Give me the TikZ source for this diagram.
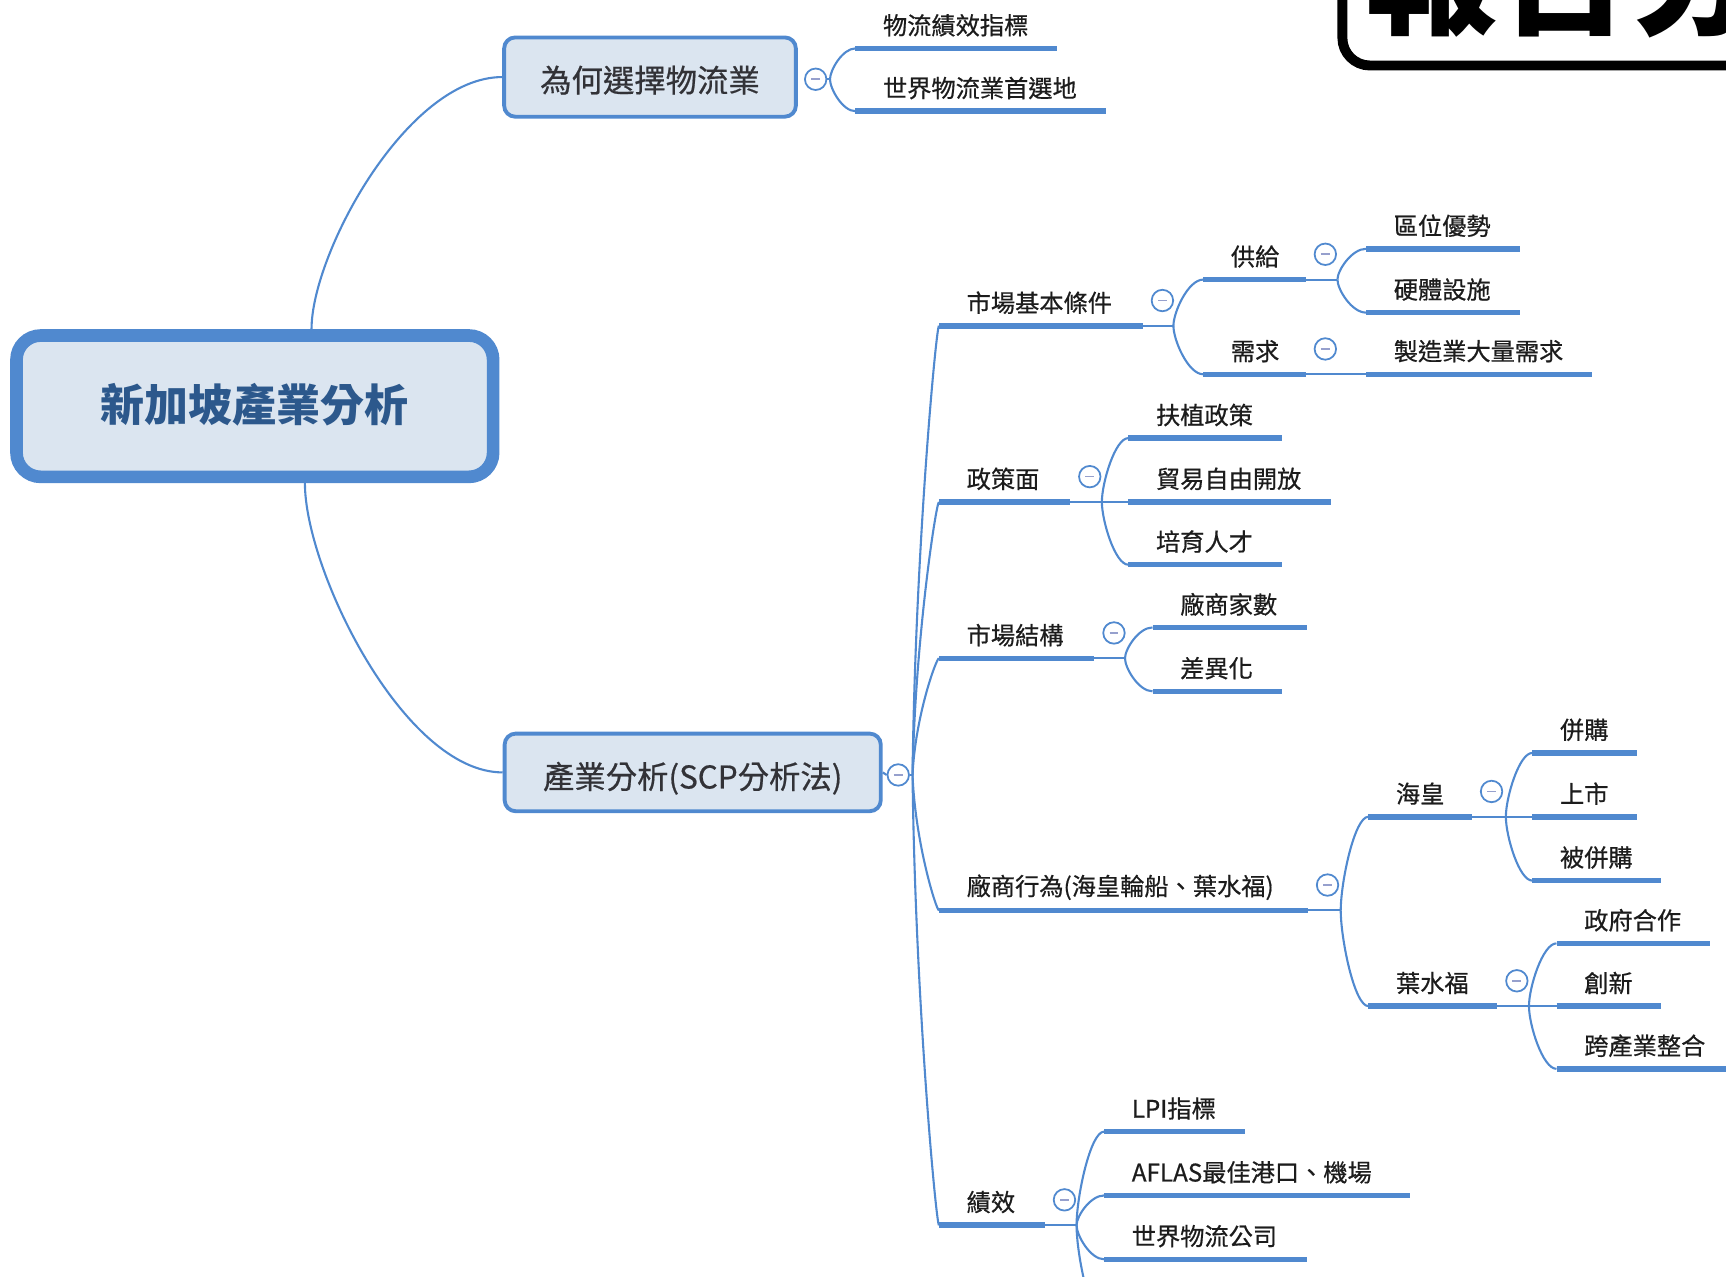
\documentclass[tikz,border=0pt]{standalone}
\usepackage{fontspec}
\setmainfont{Noto Sans CJK TC}
\newfontfamily\medfont[FakeBold=0.6]{Noto Sans CJK TC}
\usetikzlibrary{calc}
\definecolor{lblue}{RGB}{80,137,207}
\definecolor{boxfill}{RGB}{219,229,240}
\definecolor{rootText}{RGB}{44,88,140}
\definecolor{txtc}{RGB}{28,28,28}
\definecolor{boxtxt}{RGB}{50,50,55}
\definecolor{minusc}{RGB}{150,160,205}
\newcommand\topicline[5]{%
  \coordinate (#1s) at (#2,#4);
  \coordinate (#1e) at (#3,#4);
  \draw[uline] (#1s) -- (#1e);
  \node[topic] (#1) at (#2+25,#4-21) {#5};
}
\newcommand\togat[2]{% name, parent underline end
  \node[tog] (#1) at ($(#2)+(18,-23)$) {};
}
\begin{document}
\begin{tikzpicture}[x=1pt,y=-1pt,
  conn/.style={draw=lblue, line width=1.9pt},
  uline/.style={draw=lblue, line width=5pt},
  brace/.style={to path={.. controls ($(\tikztostart)!0.3!(\tikztostart|-\tikztotarget)$) and ($(\tikztotarget)!0.5!(\tikztotarget-|\tikztostart)$) .. (\tikztotarget)}},
  spine/.style={to path={.. controls ($(\tikztostart)!0.5!($(\tikztostart|-\tikztotarget)!0.2!(\tikztotarget)$)$) and ($(\tikztotarget)!0.1!(\tikztotarget-|\tikztostart)$) .. (\tikztotarget)}},
  topic/.style={anchor=west, inner sep=0pt, text=txtc, font=\medfont\fontsize{22}{26}\selectfont},
  tog/.style={circle, draw=lblue, line width=1.6pt, fill=white, minimum size=19.5pt, inner sep=0pt,
    path picture={\draw[draw=minusc, line width=1.5pt] ([xshift=-4pt]path picture bounding box.center) -- ([xshift=4pt]path picture bounding box.center);}},
  lvlbox/.style={draw=lblue, fill=boxfill, line width=3.5pt, rounded corners=10pt, inner sep=0pt, text=boxtxt, font=\medfont\fontsize{28.5}{32}\selectfont, text depth=3.4pt},
  rootbox/.style={draw=lblue, fill=boxfill, line width=11.5pt, rounded corners=22pt, inner sep=0pt, text=rootText, font=\fontsize{40}{48}\selectfont\bfseries}
]
\useasboundingbox (0,0) rectangle (1568,1160);
\clip (0,0) rectangle (1568,1160);

% header box (cropped at the page edge)
\node[draw=black, line width=9pt, rounded corners=25pt, minimum width=500pt, minimum height=180pt, anchor=south west] (hdr) at (1215,64) {};
\node[anchor=base west, inner sep=0pt, font=\fontsize{120}{130}\selectfont\bfseries] (hdrtext) at (1240,22.6) {報告分工};

% ---------- boxes ----------
\node[rootbox, minimum width=433pt, minimum height=128.4pt, text height=31pt, text depth=4pt] (root) at (231.5,369) {新加坡產業分析};
\node[lvlbox, minimum width=265pt, minimum height=72pt, text height=30.6pt] (W) at (590.5,70) {為何選擇物流業};
\node[lvlbox, minimum width=341.7pt, minimum height=70.5pt, text height=32.6pt] (S) at (629.3,701.7) {產業分析(SCP分析法)};
\coordinate (rootT) at ($(root.north)+(51.5,0)$);
\coordinate (rootB) at ($(root.south)+(45.5,0)$);
\draw[conn] (rootT) to[brace] (W.west);
\draw[conn] (rootB) to[brace] (S.west);

% ---------- branch: why logistics ----------
\node[tog] (Wt) at (741,72) {};
\coordinate (Wj) at (754,72);
\draw[conn] (Wt.east) -- (Wj);
\topicline{w1}{777}{960}{44}{物流績效指標}
\topicline{w2}{777}{1005}{101}{世界物流業首選地}
\draw[conn] (Wj) to[brace] (w1s);
\draw[conn] (Wj) to[brace] (w2s);

% ---------- branch: SCP ----------
\node[tog] (St) at (816,704) {};
\draw[conn] (S.east) -- (St.west);
\coordinate (Sj) at (829,704);
\draw[conn] (St.east) -- (Sj);
\topicline{m1}{853}{1038}{296}{市場基本條件}
\topicline{m2}{853}{972}{456}{政策面}
\topicline{m3}{853}{994}{598}{市場結構}
\topicline{m4}{853}{1188}{827}{廠商行為(海皇輪船、葉水福)}
\topicline{m5}{853}{949}{1113}{績效}
\foreach \c in {m1s,m2s,m3s,m4s,m5s} \draw[conn] (Sj) to[spine] (\c);

% m1: market basic conditions
\togat{m1t}{m1e}
\coordinate (m1j) at (1066,296);
\draw[conn] (m1e) -- (m1j);
\topicline{m1a}{1093}{1186}{254}{供給}
\topicline{m1b}{1093}{1186}{340}{需求}
\draw[conn] (m1j) to[brace] (m1as);
\draw[conn] (m1j) to[brace] (m1bs);
\togat{m1at}{m1ae}
\coordinate (m1aj) at (1215,254);
\draw[conn] (m1ae) -- (m1aj);
\topicline{m1a1}{1241}{1381}{226}{區位優勢}
\topicline{m1a2}{1241}{1381}{284}{硬體設施}
\draw[conn] (m1aj) to[brace] (m1a1s);
\draw[conn] (m1aj) to[brace] (m1a2s);
\togat{m1bt}{m1be}
\topicline{m1b1}{1241}{1446}{340}{製造業大量需求}
\draw[conn] (m1be) -- (m1b1s);

% m2: policy
\togat{m2t}{m2e}
\coordinate (m2j) at (1001,456);
\draw[conn] (m2e) -- (m2j);
\topicline{m2a}{1025}{1165}{398}{扶植政策}
\topicline{m2b}{1025}{1209}{456}{貿易自由開放}
\topicline{m2c}{1025}{1165}{513}{培育人才}
\foreach \c in {m2as,m2bs,m2cs} \draw[conn] (m2j) to[brace] (\c);

% m3: market structure
\togat{m3t}{m3e}
\coordinate (m3j) at (1022,598);
\draw[conn] (m3e) -- (m3j);
\topicline{m3a}{1047}{1187}{570}{廠商家數}
\topicline{m3b}{1047}{1165}{628}{差異化}
\foreach \c in {m3as,m3bs} \draw[conn] (m3j) to[brace] (\c);

% m4: firm conduct
\togat{m4t}{m4e}
\coordinate (m4j) at (1218,827);
\draw[conn] (m4e) -- (m4j);
\topicline{m4a}{1243}{1337}{742}{海皇}
\topicline{m4b}{1243}{1360}{914}{葉水福}
\foreach \c in {m4as,m4bs} \draw[conn] (m4j) to[brace] (\c);
\togat{m4at}{m4ae}
\coordinate (m4aj) at (1368,742);
\draw[conn] (m4ae) -- (m4aj);
\topicline{m4a1}{1392}{1487}{684}{併購}
\topicline{m4a2}{1392}{1487}{742}{上市}
\topicline{m4a3}{1392}{1509}{800}{被併購}
\foreach \c in {m4a1s,m4a2s,m4a3s} \draw[conn] (m4aj) to[brace] (\c);
\togat{m4bt}{m4be}
\coordinate (m4bj) at (1389,914);
\draw[conn] (m4be) -- (m4bj);
\topicline{m4b1}{1414}{1553}{857}{政府合作}
\topicline{m4b2}{1414}{1509}{914}{創新}
\topicline{m4b3}{1414}{1600}{971}{跨產業整合}
\foreach \c in {m4b1s,m4b2s,m4b3s} \draw[conn] (m4bj) to[brace] (\c);

% m5: performance
\togat{m5t}{m5e}
\coordinate (m5j) at (978,1113);
\draw[conn] (m5e) -- (m5j);
\topicline{m5a}{1003}{1131}{1028}{LPI指標}
\topicline{m5b}{1003}{1281}{1086}{AFLAS最佳港口、機場}
\topicline{m5c}{1003}{1187}{1144}{世界物流公司}
\coordinate (m5d) at (1003,1201);
\foreach \c in {m5as,m5bs,m5cs,m5d} \draw[conn] (m5j) to[brace] (\c);
\end{tikzpicture}
\end{document}
